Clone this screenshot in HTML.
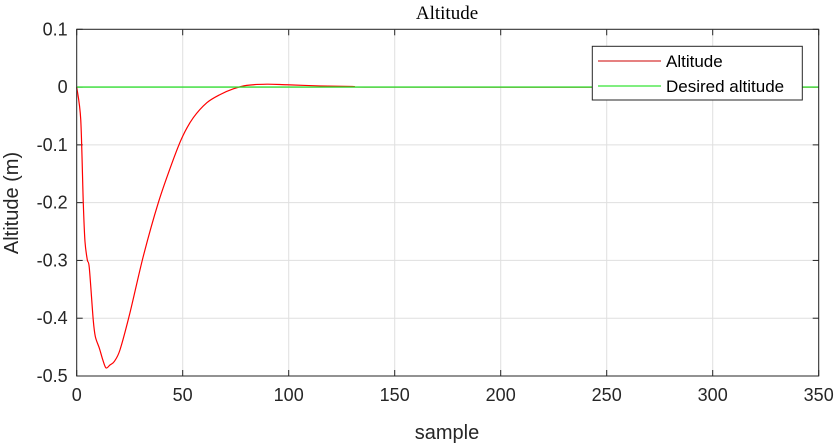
<!DOCTYPE html>
<html><head><meta charset="utf-8"><style>
body{margin:0;background:#fff;}
svg{display:block;font-family:"Liberation Sans",sans-serif;}
</style></head><body>
<svg id="chart" width="838" height="444"></svg>
<script>
const xTicks=[0,50,100,150,200,250,300,350];
const yTicks=[0.1,0,-0.1,-0.2,-0.3,-0.4,-0.5];
const yTickLabels=["0.1","0","-0.1","-0.2","-0.3","-0.4","-0.5"];
const altSamples=[0,1.9,3.1,3.9,5.0,5.95,7.8,8.8,10.7,12.3,13.8,15.7,17.7,20.4,25.1,31.4,38.5,45.6,50,55,61.4,67.6,73.9,80.2,89.7,99.1,114.8,130,150,350];
const altValues=[0,-0.056,-0.2,-0.267,-0.299,-0.313,-0.403,-0.432,-0.452,-0.472,-0.486,-0.481,-0.475,-0.455,-0.391,-0.293,-0.2,-0.125,-0.085,-0.053,-0.027,-0.013,-0.003,0.003,0.005,0.004,0.002,0.001,0,0];
const desSamples=[0,350];
const desValues=[0,0];
const L=76.7,R=818.7,T=29.3,B=376;
const sx=v=>L+(v-0)/(350-0)*(R-L);
const sy=v=>T+(0.1-v)/(0.6)*(B-T);
const svg=document.getElementById('chart');
const NS='http://www.w3.org/2000/svg';
function mk(tag,attrs,parent){const e=document.createElementNS(NS,tag);for(const k in attrs)e.setAttribute(k,attrs[k]);(parent||svg).appendChild(e);return e;}
function smoothPath(xs,ys){
 const p=xs.map((x,i)=>[sx(x),sy(ys[i])]);
 let d='M'+p[0][0]+','+p[0][1];
 for(let i=0;i<p.length-1;i++){
  const p0=p[Math.max(0,i-1)],p1=p[i],p2=p[i+1],p3=p[Math.min(p.length-1,i+2)];
  const t=0.15;
  const c1=[p1[0]+(p2[0]-p0[0])*t,p1[1]+(p2[1]-p0[1])*t];
  const c2=[p2[0]-(p3[0]-p1[0])*t,p2[1]-(p3[1]-p1[1])*t];
  d+=' C'+c1[0]+','+c1[1]+' '+c2[0]+','+c2[1]+' '+p2[0]+','+p2[1];
 }
 return d;
}
const bg=mk('rect',{x:L,y:T,width:R-L,height:B-T,fill:'#fff'});


xTicks.forEach(t=>{
 const g=mk('line',{x1:sx(t),x2:sx(t),y1:T,y2:B,stroke:'#dfdfdf','stroke-width':1});
 
 
 mk('line',{x1:sx(t),x2:sx(t),y1:B,y2:B-6,stroke:'#262626'});
 mk('line',{x1:sx(t),x2:sx(t),y1:T,y2:T+6,stroke:'#262626'});
 const lb=mk('text',{x:sx(t),y:B+25,'text-anchor':'middle','font-size':18,fill:'#262626'});
 lb.textContent=t;
 
 
});
yTicks.forEach((t,i)=>{
 const g=mk('line',{x1:L,x2:R,y1:sy(t),y2:sy(t),stroke:'#dfdfdf','stroke-width':1});
 
 
 mk('line',{x1:L,x2:L+6,y1:sy(t),y2:sy(t),stroke:'#262626'});
 mk('line',{x1:R,x2:R-6,y1:sy(t),y2:sy(t),stroke:'#262626'});
 const lb=mk('text',{x:L-9,y:sy(t)+6,'text-anchor':'end','font-size':18,fill:'#262626'});
 lb.textContent=yTickLabels[i];
 
 
});
const al=mk('path',{d:smoothPath(altSamples,altValues),fill:'none',stroke:'#ff0000','stroke-width':1.2,'stroke-linejoin':'round'});


const dl=mk('polyline',{points:desSamples.map((s,i)=>sx(s)+','+sy(desValues[i])).join(' '),fill:'none',stroke:'#33dd33','stroke-width':1.3});


const fr=mk('rect',{x:L,y:T,width:R-L,height:B-T,fill:'none',stroke:'#262626','stroke-width':1});


const ti=mk('text',{x:447,y:19,'text-anchor':'middle','font-size':19,'font-family':'Liberation Serif, serif',fill:'#000'});
ti.textContent='Altitude';


const xl=mk('text',{x:447,y:439,'text-anchor':'middle','font-size':20,fill:'#262626'});
xl.textContent='sample';


const yl=mk('text',{x:0,y:0,'text-anchor':'middle','font-size':20,fill:'#262626',transform:'translate(18,203) rotate(-90)'});
yl.textContent='Altitude (m)';


const lg=mk('g',{});


mk('rect',{x:592.3,y:46.3,width:210,height:53.7,fill:'#fff',stroke:'#262626','stroke-width':1},lg);
mk('line',{x1:598,x2:661,y1:61,y2:61,stroke:'#cc0000'},lg);
mk('line',{x1:598,x2:661,y1:86,y2:86,stroke:'#00dd00'},lg);
const l1=mk('text',{x:666,y:67,'font-size':17,fill:'#000'},lg);
l1.textContent='Altitude';


const l2=mk('text',{x:666,y:92,'font-size':17,fill:'#000'},lg);
l2.textContent='Desired altitude';


</script>
</body></html>
